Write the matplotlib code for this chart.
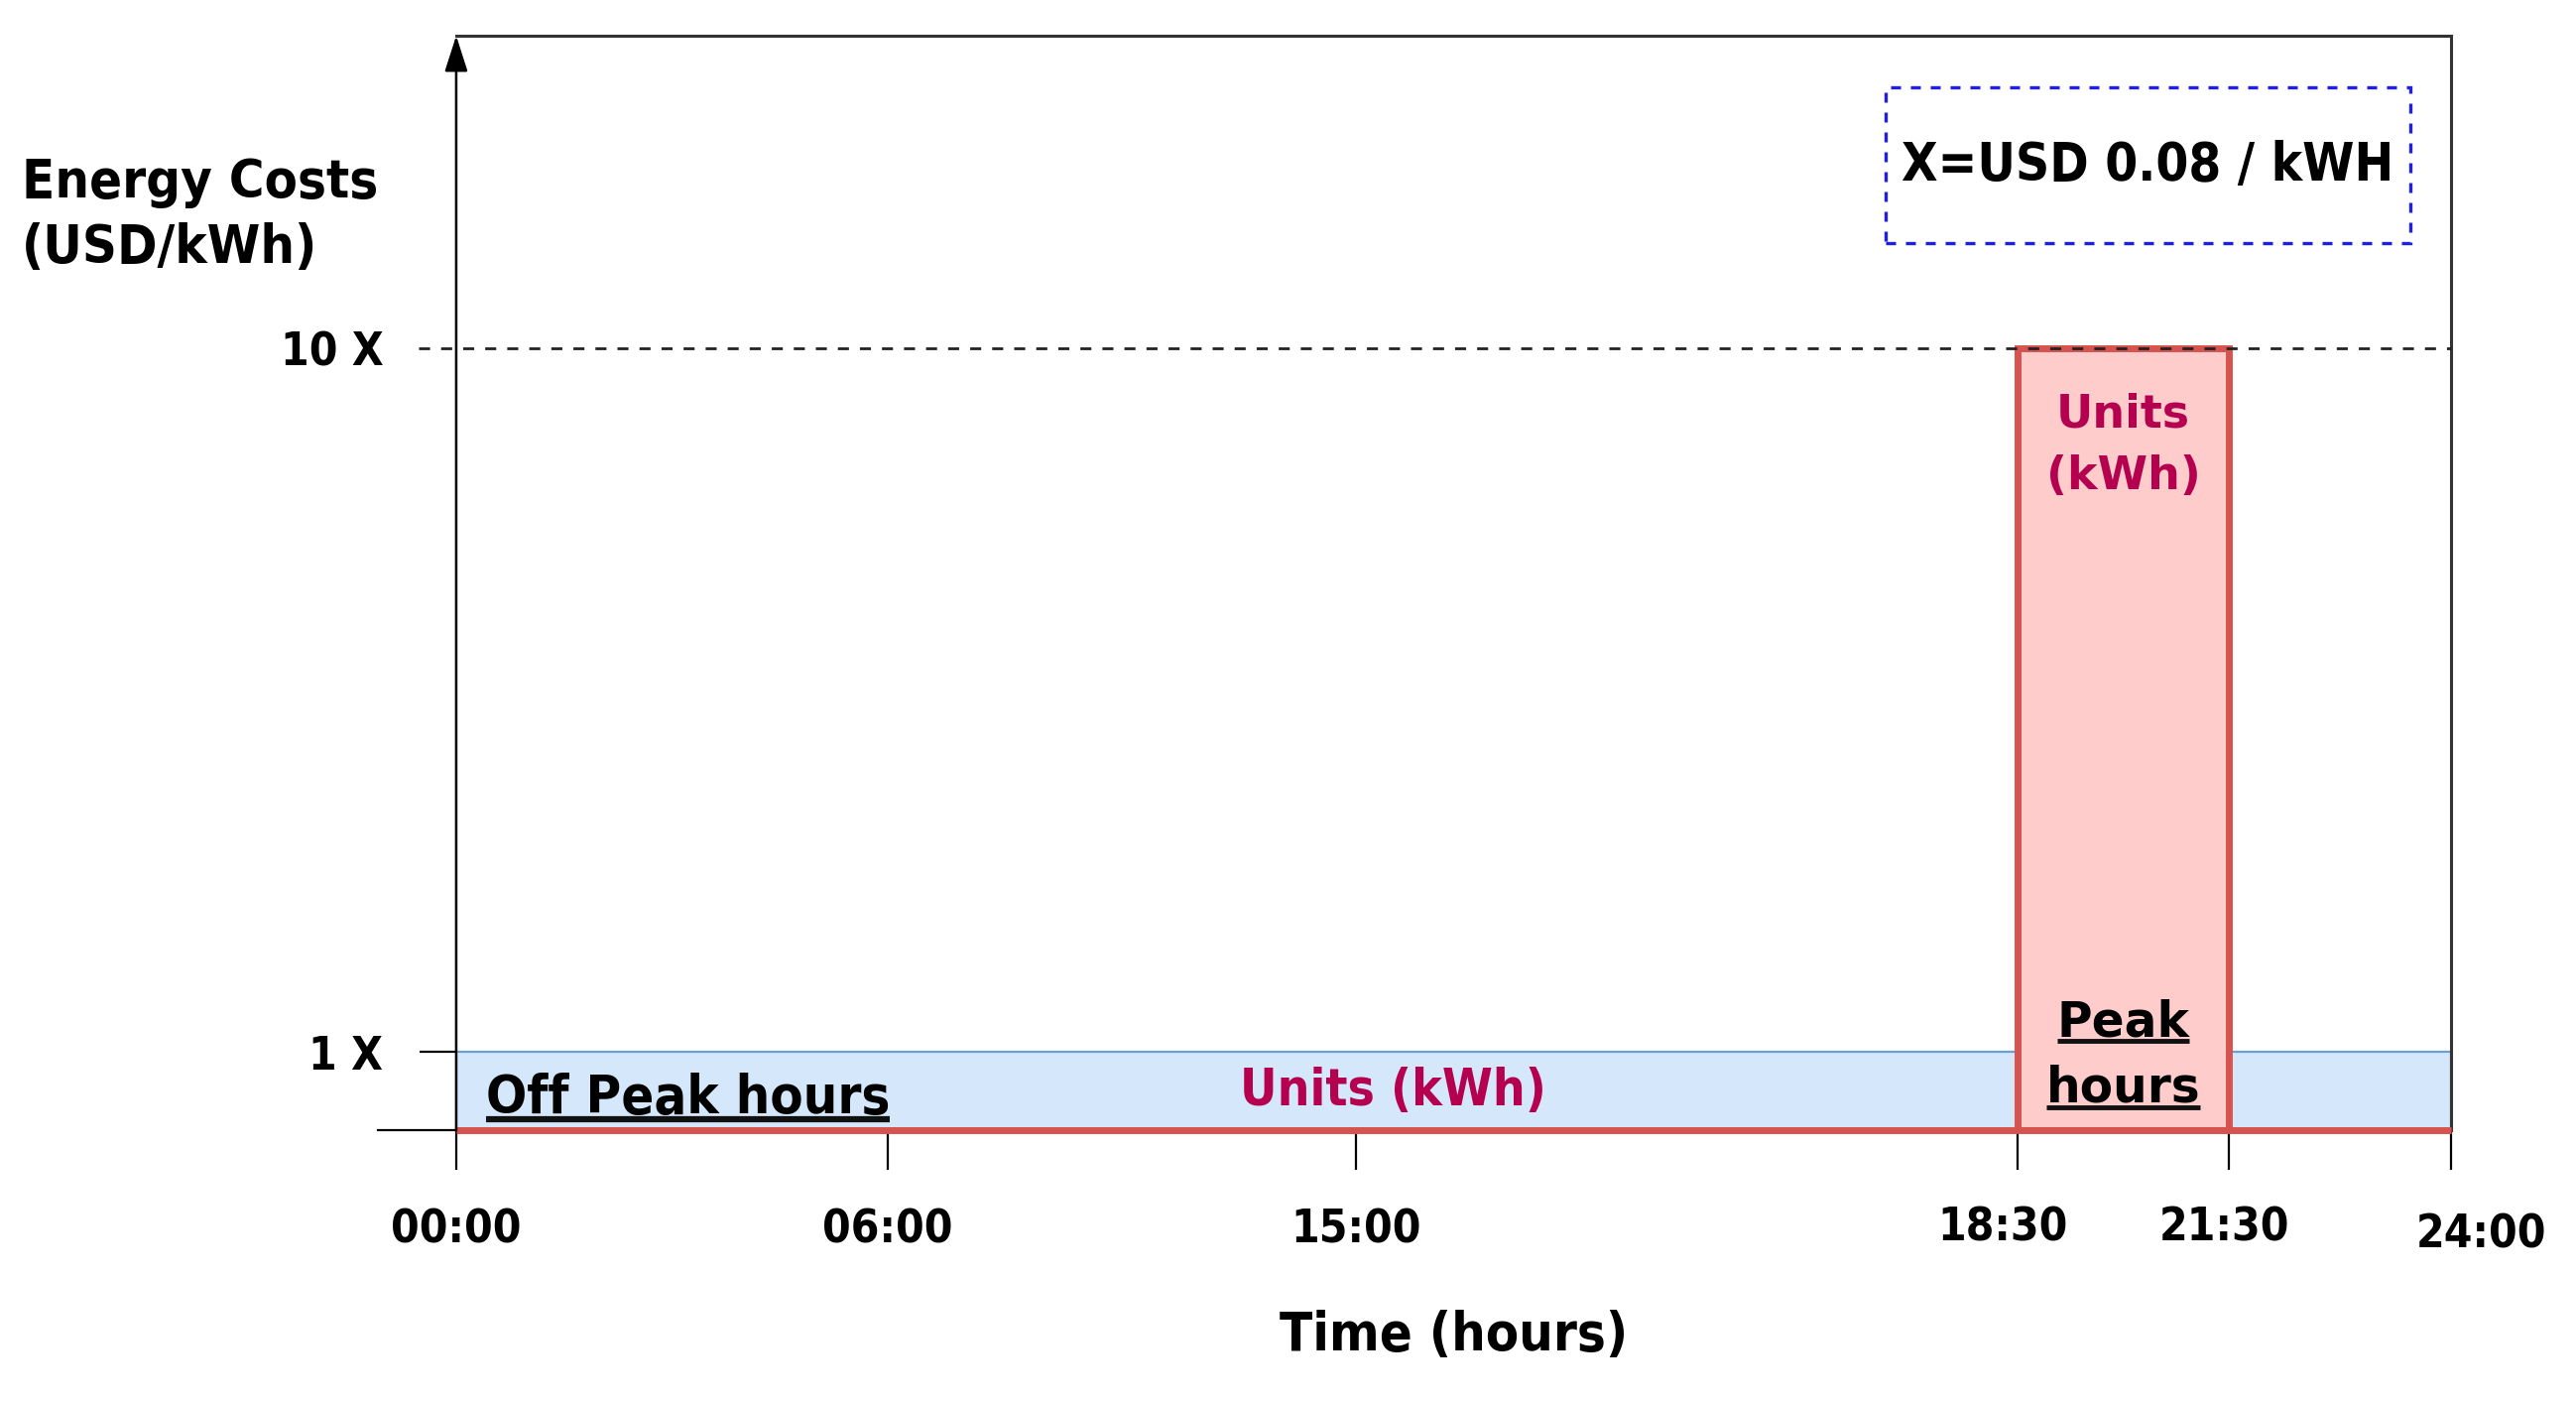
import numpy as np
import matplotlib
matplotlib.use("Agg")
import matplotlib.pyplot as plt
from matplotlib.lines import Line2D
from matplotlib.patches import Rectangle
from matplotlib.transforms import IdentityTransform, offset_copy, blended_transform_factory

# --- data ---
tick_hours = [0, 6, 15, 18.5, 21.5, 24]
tick_labels = ["00:00", "06:00", "15:00", "18:30", "21:30", "24:00"]
offpeak_start, offpeak_end, offpeak_cost = 0, 24, 1
peak_start, peak_end, peak_cost = 18.5, 21.5, 10
cost_ticks = [1, 10]
cost_labels = ["1 X", "10 X"]
rate_note = "X=USD 0.08 / kWH"

# schematic (non-uniform) spacing of the time axis, as fraction of axis width
tick_frac = [0.0, 0.2158, 0.4505, 0.7817, 0.8871, 0.9985]


def fwd(h):
    return np.interp(h, tick_hours, tick_frac)


def inv(f):
    return np.interp(f, tick_frac, tick_hours)


COND = dict(family='DejaVu Sans', fontweight='bold', fontstretch='condensed')
WIDE = dict(family='DejaVu Sans', fontweight='bold')

fig = plt.figure(figsize=(25.97, 14.13), dpi=100)
ax = fig.add_axes([0.1771, 0.1939, 0.7744, 0.7806])
ax.set_xscale('function', functions=(fwd, inv))
ax.set_xlim(0, 24)
ax.set_ylim(0, 14)

# bars
ax.bar(offpeak_start, offpeak_cost, width=offpeak_end - offpeak_start, align='edge',
       color='#d4e7fb', edgecolor='#6a9fd8', linewidth=1.6, zorder=2)
ax.bar(peak_start, peak_cost, width=peak_end - peak_start, align='edge',
       color='#ffcccc', edgecolor='#d6534f', linewidth=5, zorder=3)
ax.plot([offpeak_start, offpeak_end], [0, 0], color='#d6534f', lw=5,
        solid_capstyle='butt', zorder=4, clip_on=False)

# 10X dashed reference line
ytr = ax.get_yaxis_transform()
ax.plot([-0.019, 1], [peak_cost, peak_cost], transform=ytr, color='#222222',
        lw=2, ls=(0, (4, 4)), clip_on=False, zorder=5)

# spines / axis arrow
for s in ['top', 'right']:
    ax.spines[s].set_color('#333333')
    ax.spines[s].set_linewidth(2.2)
ax.spines['left'].set_visible(False)
ax.spines['bottom'].set_linewidth(1.6)
ax.spines['bottom'].set_zorder(1)
ax.annotate('', xy=(0, 1), xytext=(0, 0), xycoords='axes fraction',
            arrowprops=dict(arrowstyle='-|>,head_length=1.4,head_width=0.45',
                            color='k', lw=1.8, shrinkA=0, shrinkB=0,
                            mutation_scale=16), zorder=6)
xtr = ax.get_xaxis_transform()
ax.plot([-0.0393, 0], [0, 0], transform=ax.transAxes, color='k', lw=1.6, clip_on=False)

# ticks
ax.set_xticks(tick_hours)
ax.set_xticklabels([])
ax.tick_params(axis='x', direction='out', length=29, width=1.6, color='k')
ax.set_yticks(cost_ticks)
ax.set_yticklabels(cost_labels, fontsize=33, **COND)
ax.tick_params(axis='y', direction='out', length=27, width=1.6, pad=26, color='k')
ax.yaxis.get_major_ticks()[1].tick1line.set_visible(False)

# x tick labels with small schematic offsets (points)
label_dx = [0, 0, 0, -11, -3, 22]
label_dy = [0, 0, 0, 2, 2, -3]
for h, lab, dx, dy in zip(tick_hours, tick_labels, label_dx, label_dy):
    t = offset_copy(xtr, fig=fig, x=dx, y=dy - 73, units='points')
    ax.text(h, 0, lab, transform=t, ha='center', va='center', fontsize=33,
            clip_on=False, **COND)

ax.text(0.5, -0.188, 'Time (hours)', transform=ax.transAxes, ha='center', va='center',
        fontsize=39, **COND)
fig.text(22 / 2597, 0.8466, 'Energy Costs\n(USD/kWh)', ha='left', va='center',
         fontsize=39, linespacing=1.35, **COND)

# note box
ax.add_patch(Rectangle((0.7166, 0.8105), 0.263, 0.1423, transform=ax.transAxes,
                       fill=False, edgecolor='#1f1fe6', lw=2.4, ls=(0, (3, 3)), zorder=5))
ax.text(0.7166 + 0.263 / 2, 0.8105 + 0.1423 / 2, rate_note, transform=ax.transAxes,
        ha='center', va='center', fontsize=38, **COND)

# in-plot labels
crimson = '#b5004f'
axdata = blended_transform_factory(ax.transAxes, ax.transData)
ax.text(0.4695, 0.5, 'Units (kWh)', transform=axdata, ha='center', va='center',
        fontsize=37, color=crimson, zorder=7, **COND)
ax.text((peak_start + peak_end) / 2, 8.75, 'Units\n(kWh)', ha='center', va='center',
        fontsize=33, color=crimson, zorder=7, linespacing=1.5, **WIDE)
t_off = ax.text(0.0148, 0.21, 'Off Peak hours', transform=axdata, ha='left',
                va='baseline', fontsize=39, zorder=7, **COND)
t_peak = ax.text((peak_start + peak_end) / 2, 1.2, 'Peak', ha='center', va='baseline',
                 fontsize=35, zorder=7, **WIDE)
t_hours = ax.text((peak_start + peak_end) / 2, 0.36, 'hours', ha='center', va='baseline',
                  fontsize=35, zorder=7, **WIDE)

fig.canvas.draw()
r = fig.canvas.get_renderer()
for t, lw in [(t_off, 4.5), (t_peak, 3.5), (t_hours, 3.5)]:
    bb = t.get_window_extent(r)
    y = bb.y0 + 5
    fig.add_artist(Line2D([bb.x0, bb.x1], [y, y], transform=IdentityTransform(),
                          color='#111111', lw=lw, solid_capstyle='butt', zorder=8))

fig.savefig('out.png', dpi=100)
